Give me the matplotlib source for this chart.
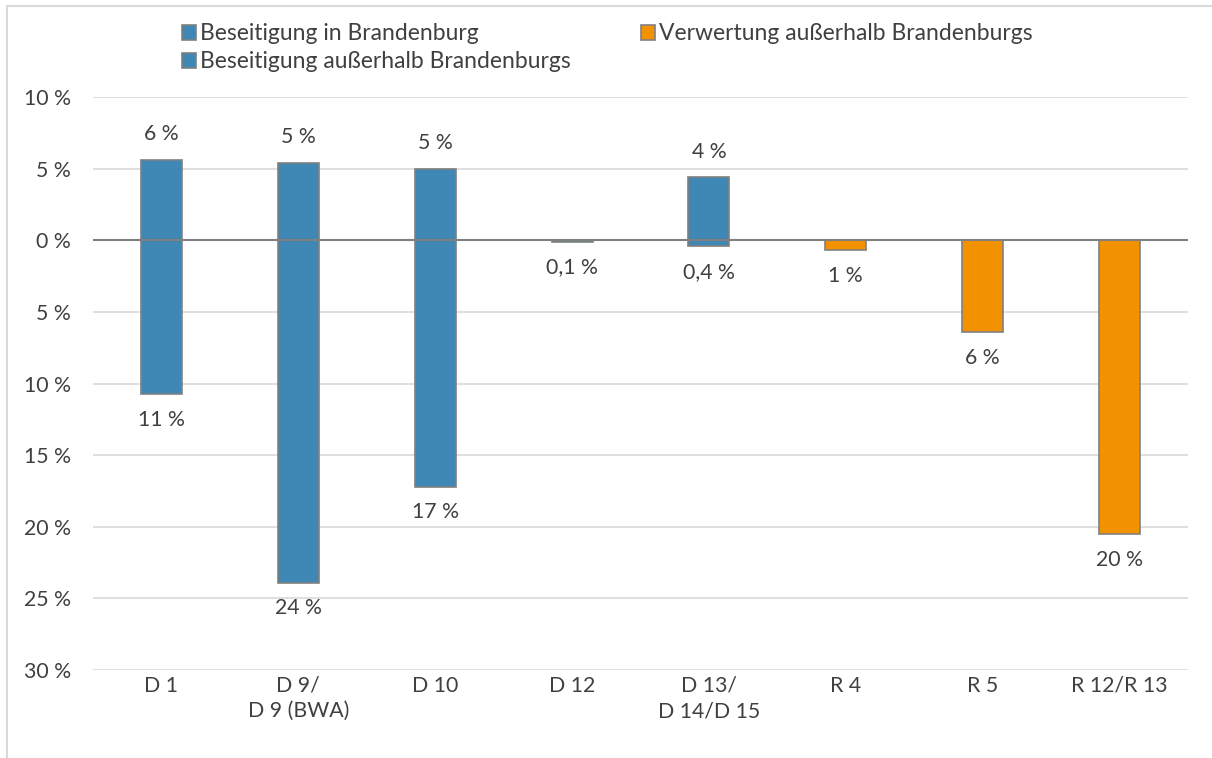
import matplotlib
matplotlib.use("Agg")
import matplotlib.pyplot as plt
import numpy as np
from matplotlib.patches import Rectangle
from matplotlib.ticker import FixedLocator, FuncFormatter

categories = ["D 1", "D 9/\nD 9 (BWA)", "D 10", "D 12", "D 13/\nD 14/D 15", "R 4", "R 5", "R 12/R 13"]
beseitigung_in = [5.6, 5.4, 5.0, 0.0, 4.4, 0.0, 0.0, 0.0]
beseitigung_ausser = [10.75, 23.9, 17.2, 0.1, 0.4, 0.0, 0.0, 0.0]
verwertung_ausser = [0.0, 0.0, 0.0, 0.0, 0.0, 0.7, 6.4, 20.5]
labels_top = ["6 %", "5 %", "5 %", "", "4 %", "", "", ""]
labels_bottom = ["11 %", "24 %", "17 %", "0,1 %", "0,4 %", "1 %", "6 %", "20 %"]
yticks = [10, 5, 0, -5, -10, -15, -20, -25, -30]

plt.rcParams['font.family'] = ['Lato', 'DejaVu Sans']
FS = 15.3
LFS = 16.5
TXT = '#404040'
BLUE = '#3F87B4'
ORANGE = '#F39200'
EDGE = '#808080'

fig = plt.figure(figsize=(12.12, 7.58), dpi=100)
ax = fig.add_axes([93/1212, 1-670/758, (1188-93)/1212, (670-97)/758])

x = np.arange(len(categories))
w = 0.3
ax.bar(x, beseitigung_in, w, color=BLUE, edgecolor=EDGE, linewidth=1.2,
       label="Beseitigung in Brandenburg", zorder=3)
ax.bar(x, [-v for v in beseitigung_ausser], w, color=BLUE, edgecolor=EDGE, linewidth=1.2,
       label="Beseitigung außerhalb Brandenburgs", zorder=3)
ax.bar(x, [-v for v in verwertung_ausser], w, color=ORANGE, edgecolor=EDGE, linewidth=1.2,
       label="Verwertung außerhalb Brandenburgs", zorder=3)

for i in range(len(categories)):
    if labels_top[i]:
        ax.annotate(labels_top[i], (x[i], beseitigung_in[i]), xytext=(0, 18.5),
                    textcoords='offset points', ha='center', va='center',
                    fontsize=FS, color=TXT)
    low = -(beseitigung_ausser[i] + verwertung_ausser[i])
    ax.annotate(labels_bottom[i], (x[i], low), xytext=(0, -18.5),
                textcoords='offset points', ha='center', va='center',
                fontsize=FS, color=TXT)

ax.set_ylim(-30, 10)
ax.set_xlim(-0.5, len(categories) - 0.5)
ax.yaxis.set_major_locator(FixedLocator(yticks))
ax.yaxis.set_major_formatter(FuncFormatter(lambda v, p: f"{abs(int(round(v)))} %"))
ax.grid(axis='y', color='#D9D9D9', linewidth=1.2, zorder=0)
ax.axhline(0, color=EDGE, linewidth=1.5, zorder=4)
for s in ax.spines.values():
    s.set_visible(False)
ax.tick_params(axis='y', length=0, pad=16, labelsize=FS, labelcolor=TXT)
ax.tick_params(axis='x', length=0, pad=4, labelsize=FS, labelcolor=TXT)
ax.set_xticks(x)
ax.set_xticklabels(categories, linespacing=1.35, va='top')

handles, lbls = ax.get_legend_handles_labels()
leg = fig.legend(handles, lbls, ncol=2,
                 loc='upper left', bbox_to_anchor=(182/1212, 1-23.5/758), frameon=False,
                 fontsize=LFS, labelcolor=TXT, handlelength=0.6, handleheight=0.6,
                 handletextpad=0.2, columnspacing=3.05, labelspacing=0.3,
                 borderaxespad=0, borderpad=0)

fig.patches.append(Rectangle((7/1212, -0.05), 1.1, 1 - 6/758 + 0.05, transform=fig.transFigure,
                             fill=False, edgecolor='#D9D9D9', linewidth=1.5))

fig.savefig("out.png", dpi=100)
